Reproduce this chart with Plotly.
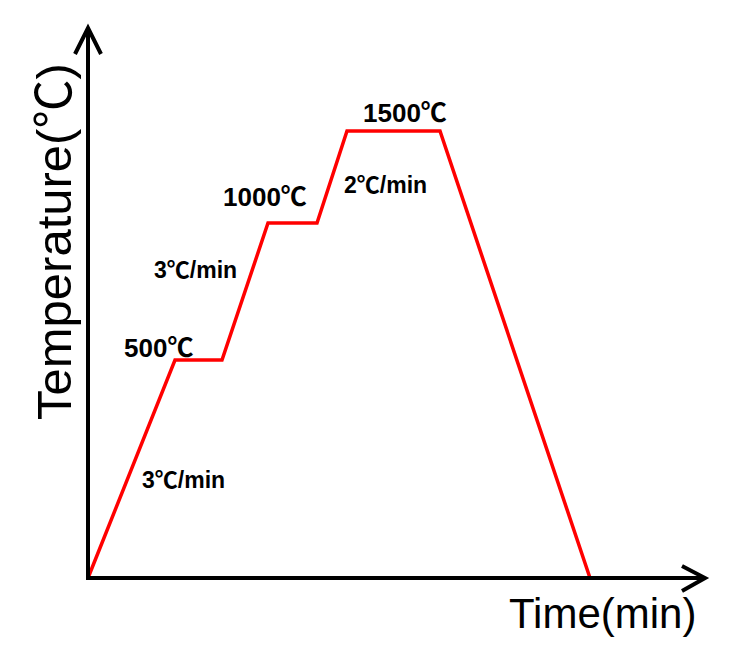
import plotly.graph_objects as go

# Schematic firing profile (time units, schematic temperature level)
time = [0, 87, 134, 180, 229, 259, 352, 502]
level = [0, 218, 218, 355, 355, 447, 447, 0]

# Labels
temp_labels = ["500", "1000", "1500"]
temp_label_x = [70, 177, 317]
temp_label_y = [233, 384, 468]
rate_labels = ["3", "3", "2"]
rate_label_x = [107, 95, 297]
rate_label_y = [310, 100, 395]

OX, OY = 88, 578
W, H = 735, 662

DEG = "<span style=\"font-family:'Noto Sans CJK SC'\">℃</span>"

fig = go.Figure()
fig.add_trace(go.Scatter(x=time, y=level, mode="lines",
                         line=dict(color="#ff0000", width=3.5),
                         hoverinfo="skip", showlegend=False))

shapes = [
    dict(type="line", x0=0, y0=-2, x1=0, y1=549, line=dict(color="black", width=4)),
    dict(type="line", x0=-2, y0=0, x1=615, y1=0, line=dict(color="black", width=4)),
    dict(type="path", path="M -13,524 L 0,550 L 13,524", line=dict(color="black", width=4)),
    dict(type="path", path="M 594,12 L 617,0 L 594,-13", line=dict(color="black", width=4)),
]

ann = []
font_family = "Liberation Sans, Arial, sans-serif"
for t, x, y in zip(temp_labels, temp_label_x, temp_label_y):
    ann.append(dict(x=x, y=y, text="<b>%s%s</b>" % (t, DEG), showarrow=False,
                    font=dict(family=font_family, size=26, color="black"),
                    xanchor="center", yanchor="middle"))
for t, x, y in zip(rate_labels, rate_label_x, rate_label_y):
    ann.append(dict(x=x, y=y, text="<b>%s%s/min</b>" % (t, DEG), showarrow=False,
                    font=dict(family=font_family, size=23, color="black"),
                    xanchor="center", yanchor="middle"))
ann.append(dict(x=-39, y=336, text="Temperature(%s)" % DEG, textangle=-90, showarrow=False,
                font=dict(family=font_family, size=49, color="black"),
                xanchor="center", yanchor="middle"))
ann.append(dict(x=514, y=-35, text="Time(min)", showarrow=False,
                font=dict(family=font_family, size=42, color="black"),
                xanchor="center", yanchor="middle"))

fig.update_layout(
    width=W, height=H,
    margin=dict(l=0, r=0, t=0, b=0),
    paper_bgcolor="white", plot_bgcolor="white",
    xaxis=dict(range=[-OX, W - OX], visible=False, fixedrange=True),
    yaxis=dict(range=[OY - H, OY], visible=False, fixedrange=True),
    shapes=shapes, annotations=ann, showlegend=False,
)
fig.write_html("out.html")
